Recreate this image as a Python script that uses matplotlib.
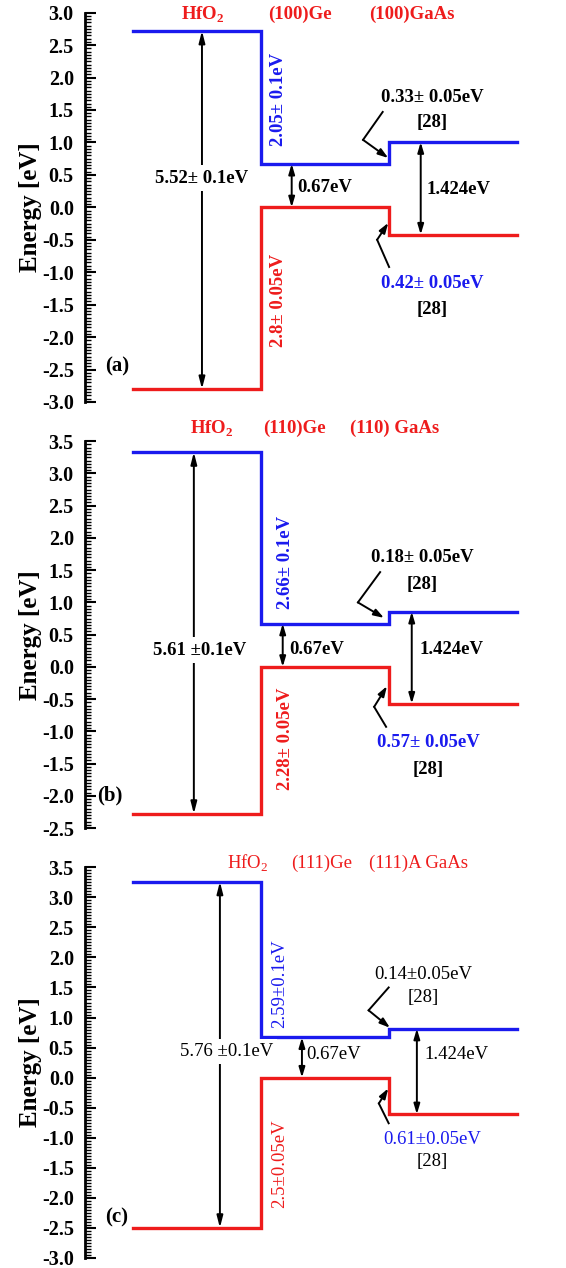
import numpy as np
import matplotlib
matplotlib.use("Agg")
import matplotlib.pyplot as plt
from matplotlib.ticker import MultipleLocator

plt.rcParams['font.family'] = ['Liberation Serif', 'DejaVu Serif']
plt.rcParams['mathtext.fontset'] = 'custom'
plt.rcParams['mathtext.rm'] = 'Liberation Serif'
plt.rcParams['mathtext.bf'] = 'Liberation Serif:bold'

# band edges [eV] for (a) (100), (b) (110), (c) (111)
hfo2_cb = [2.72, 3.33, 3.26]
hfo2_vb = [-2.80, -2.28, -2.50]
ge_cb = [0.67, 0.67, 0.67]
ge_vb = [0.0, 0.0, 0.0]
gaas_cb = [1.004, 0.854, 0.814]
gaas_vb = [-0.42, -0.57, -0.61]

panel_tags = ['(a)', '(b)', '(c)']
ge_names = ['(100)Ge', '(110)Ge', '(111)Ge']
gaas_names = ['(100)GaAs', '(110) GaAs', '(111)A GaAs']
hfo2_gap_txt = ['5.52\u00b1 0.1eV', '5.61 \u00b10.1eV', '5.76 \u00b10.1eV']
cbo_txt = ['2.05\u00b1 0.1eV', '2.66\u00b1 0.1eV', '2.59\u00b10.1eV']
vbo_txt = ['2.8\u00b1 0.05eV', '2.28\u00b1 0.05eV', '2.5\u00b10.05eV']
gaas_cbo_txt = ['0.33\u00b1 0.05eV', '0.18\u00b1 0.05eV', '0.14\u00b10.05eV']
gaas_vbo_txt = ['0.42\u00b1 0.05eV', '0.57\u00b1 0.05eV', '0.61\u00b10.05eV']
ylims = [(-3.0, 3.0), (-2.5, 3.5), (-3.0, 3.5)]

x_edges = [1, 4, 7, 10]

fig = plt.figure(figsize=(5.66, 12.68), dpi=100)
axes_boxes = [[0.150, 0.683, 0.779, 0.307],
              [0.150, 0.347, 0.779, 0.305],
              [0.150, 0.008, 0.779, 0.308]]

# annotation positions for each panel
lab_y = [2.97, 3.70, 3.57]
lab_x = [(2.64, 4.91, 7.53), (2.85, 4.79, 7.14), (3.70, 5.43, 7.68)]
gap_x = [2.62, 2.43, 3.04]
gap_lab = [(2.62, 0.45), (2.57, 0.26), (3.20, 0.43)]
rot_x = [4.40, 4.58, 4.44]
rot_y = [(1.66, -1.43), (1.62, -1.12), (1.57, -1.43)]
ge_arr_x = [4.72, 4.51, 4.96]
ge_lab = [(4.84, 0.30), (4.66, 0.27), (5.05, 0.38)]
gaas_arr_x = [7.74, 7.53, 7.65]
gaas_lab = [(7.87, 0.27), (7.72, 0.27), (7.82, 0.38)]
top_txt = [(8.0, 1.69, 1.30), (7.77, 1.70, 1.28), (7.8, 1.71, 1.33)]
bot_txt = [(8.02, -1.17, -1.57), (7.91, -1.18, -1.60), (8.0, -1.03, -1.39)]
v_top = [[(6.85, 1.47), (6.39, 1.04), (6.98, 0.76)],
         [(6.79, 1.47), (6.27, 1.00), (6.88, 0.76)],
         [(6.99, 1.50), (6.52, 1.12), (7.02, 0.83)]]
v_bot = [[(7.00, -0.92), (6.72, -0.50), (6.98, -0.24)],
         [(6.93, -0.93), (6.65, -0.62), (6.95, -0.30)],
         [(6.99, -0.76), (6.76, -0.43), (6.98, -0.18)]]
tag_pos = [(0.63, -2.46), (0.46, -2.0), (0.63, -2.33)]

red = '#ee1c1c'
blue = '#1a1aee'

for i in range(3):
    ax = fig.add_axes(axes_boxes[i])
    w = 'normal' if i == 2 else 'bold'
    fs = 13.5

    xs = [x_edges[0], x_edges[1], x_edges[1], x_edges[2], x_edges[2], x_edges[3]]
    cb = [hfo2_cb[i], hfo2_cb[i], ge_cb[i], ge_cb[i], gaas_cb[i], gaas_cb[i]]
    vb = [hfo2_vb[i], hfo2_vb[i], ge_vb[i], ge_vb[i], gaas_vb[i], gaas_vb[i]]
    ax.plot(xs, cb, color=blue, lw=2.4, solid_joinstyle='miter')
    ax.plot(xs, vb, color=red, lw=2.4, solid_joinstyle='miter')

    ax.set_xlim(-0.12, 10.2)
    ax.set_ylim(*ylims[i])
    for s in ['top', 'right', 'bottom']:
        ax.spines[s].set_visible(False)
    ax.spines['left'].set_linewidth(2)
    ax.set_xticks([])
    ax.yaxis.set_major_locator(MultipleLocator(0.5))
    ax.yaxis.set_minor_locator(MultipleLocator(0.05))
    ax.tick_params(axis='y', which='major', direction='in', length=8, width=1.5, labelsize=14.5, pad=8)
    ax.tick_params(axis='y', which='minor', direction='in', length=4.5, width=1.0)
    ax.set_yticklabels(['%.1f' % v for v in ax.get_yticks()], fontweight='bold')
    ax.set_ylabel('Energy [eV]', fontsize=18, fontweight='bold', labelpad=0)

    # layer names
    ax.text(lab_x[i][0], lab_y[i], r'HfO$_\mathbf{2}$' if w == 'bold' else r'HfO$_2$', color=red,
            fontsize=fs, fontweight=w, ha='center', va='center', clip_on=False)
    ax.text(lab_x[i][1], lab_y[i], ge_names[i], color=red, fontsize=fs, fontweight=w,
            ha='center', va='center', clip_on=False)
    ax.text(lab_x[i][2], lab_y[i], gaas_names[i], color=red, fontsize=fs, fontweight=w,
            ha='center', va='center', clip_on=False)

    # HfO2 gap arrow
    ax.annotate('', xy=(gap_x[i], hfo2_vb[i]), xytext=(gap_x[i], hfo2_cb[i]),
                arrowprops=dict(arrowstyle='<|-|>,head_length=0.7,head_width=0.18',
                                color='black', lw=1.4, shrinkA=0, shrinkB=0))
    ax.text(gap_lab[i][0], gap_lab[i][1], hfo2_gap_txt[i], fontsize=fs, fontweight=w,
            ha='center', va='center', bbox=dict(fc='white', ec='none', pad=3))

    # offsets HfO2/Ge
    ax.text(rot_x[i], rot_y[i][0], cbo_txt[i], color=blue, fontsize=fs, fontweight=w,
            rotation=90, ha='center', va='center')
    ax.text(rot_x[i], rot_y[i][1], vbo_txt[i], color=red, fontsize=fs, fontweight=w,
            rotation=90, ha='center', va='center')

    # Ge gap
    ax.annotate('', xy=(ge_arr_x[i], ge_vb[i]), xytext=(ge_arr_x[i], ge_cb[i]),
                arrowprops=dict(arrowstyle='<|-|>,head_length=0.6,head_width=0.18',
                                color='black', lw=1.4, shrinkA=0, shrinkB=0))
    ax.text(ge_lab[i][0], ge_lab[i][1], '0.67eV', fontsize=fs, fontweight=w,
            ha='left', va='center')

    # GaAs gap
    ax.annotate('', xy=(gaas_arr_x[i], gaas_vb[i]), xytext=(gaas_arr_x[i], gaas_cb[i]),
                arrowprops=dict(arrowstyle='<|-|>,head_length=0.6,head_width=0.18',
                                color='black', lw=1.4, shrinkA=0, shrinkB=0))
    ax.text(gaas_lab[i][0], gaas_lab[i][1], '1.424eV', fontsize=fs, fontweight=w,
            ha='left', va='center')

    # Ge/GaAs offsets
    ax.text(top_txt[i][0], top_txt[i][1], gaas_cbo_txt[i], fontsize=fs, fontweight=w,
            ha='center', va='center')
    ax.text(top_txt[i][0], top_txt[i][2], '[28]', fontsize=fs, fontweight=w,
            ha='center', va='center')
    ax.text(bot_txt[i][0], bot_txt[i][1], gaas_vbo_txt[i], color=blue, fontsize=fs,
            fontweight=w, ha='center', va='center')
    ax.text(bot_txt[i][0], bot_txt[i][2], '[28]', fontsize=fs, fontweight=w,
            ha='center', va='center')

    for pts in (v_top[i], v_bot[i]):
        ax.plot([pts[0][0], pts[1][0]], [pts[0][1], pts[1][1]], color='black', lw=1.4)
        ax.annotate('', xy=pts[2], xytext=pts[1],
                    arrowprops=dict(arrowstyle='-|>,head_length=0.6,head_width=0.2',
                                    color='black', lw=1.4, shrinkA=0, shrinkB=0))

    ax.text(tag_pos[i][0], tag_pos[i][1], panel_tags[i], fontsize=15, fontweight='bold',
            ha='center', va='center')

fig.savefig('out.png', dpi=100)
